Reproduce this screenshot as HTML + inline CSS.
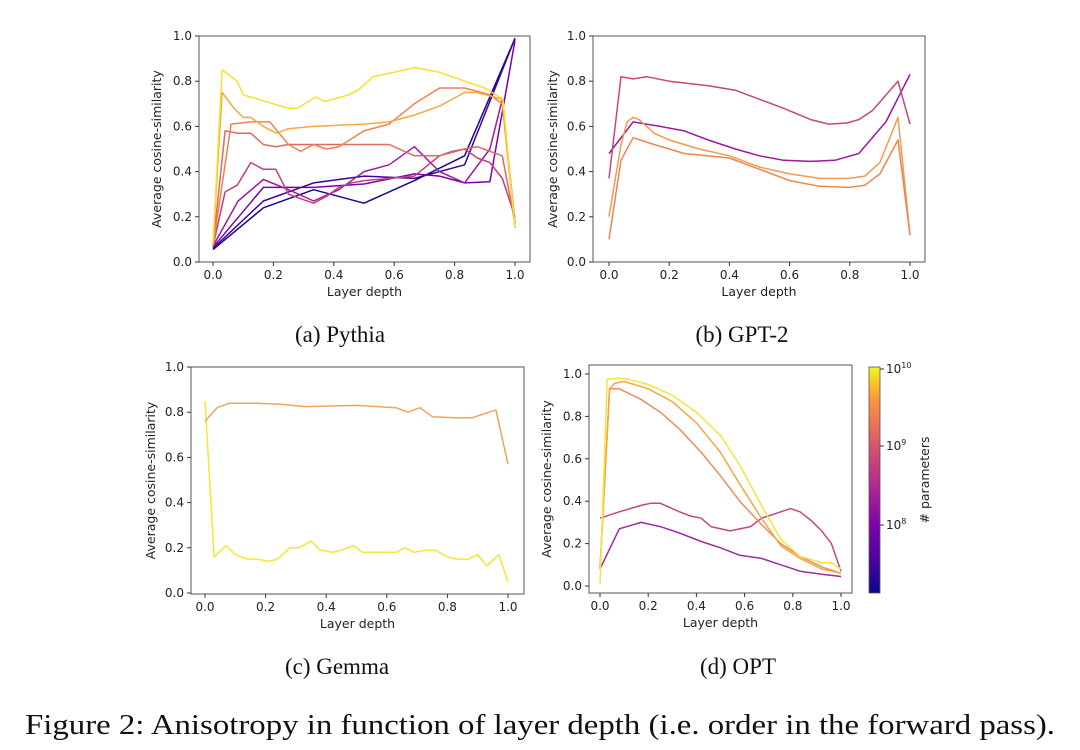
<!DOCTYPE html>
<html><head><meta charset="utf-8"><style>
html,body{margin:0;padding:0;background:#fff;width:1080px;height:750px;overflow:hidden}
svg text{font-family:"DejaVu Sans","Liberation Sans",sans-serif;fill:#222}
.cap{font-family:"Liberation Serif",serif;fill:#111}
</style></head><body>
<svg id="fig" width="1080" height="750" viewBox="0 0 1080 750" xmlns="http://www.w3.org/2000/svg">
<defs><linearGradient id="plasma" x1="0" y1="1" x2="0" y2="0">
<stop offset="0" stop-color="#0d0887"/><stop offset="0.15" stop-color="#4c02a1"/><stop offset="0.3" stop-color="#7e03a8"/><stop offset="0.45" stop-color="#a92395"/><stop offset="0.6" stop-color="#cc4778"/><stop offset="0.72" stop-color="#e56b5d"/><stop offset="0.85" stop-color="#f89441"/><stop offset="0.93" stop-color="#fdc328"/><stop offset="1" stop-color="#f0f921"/></linearGradient></defs>
</svg>
<script>
const ticks = [0, 0.2, 0.4, 0.6, 0.8, 1.0];
const tickLabels = ["0.0", "0.2", "0.4", "0.6", "0.8", "1.0"];

// Pythia
const pyX1=[0,0.167,0.333,0.5,0.667,0.833,1], pyY1=[0.055,0.24,0.32,0.26,0.36,0.47,0.99];
const pyX2=[0,0.167,0.333,0.5,0.667,0.833,1], pyY2=[0.06,0.27,0.35,0.38,0.37,0.43,0.99];
const pyX3=[0,0.167,0.333,0.5,0.667,0.75,0.833,0.917,1], pyY3=[0.065,0.33,0.33,0.345,0.39,0.38,0.35,0.355,0.98];
const pyX4=[0,0.083,0.167,0.25,0.333,0.417,0.5,0.583,0.667,0.75,0.833,0.917,0.958,1], pyY4=[0.07,0.27,0.365,0.32,0.27,0.32,0.4,0.43,0.51,0.4,0.35,0.5,0.72,0.17];
const pyX5=[0,0.04,0.08,0.125,0.167,0.208,0.25,0.29,0.333,0.375,0.417,0.458,0.5,0.583,0.667,0.75,0.792,0.833,0.875,0.917,0.958,1], pyY5=[0.07,0.31,0.34,0.44,0.41,0.41,0.3,0.28,0.26,0.29,0.33,0.35,0.36,0.37,0.38,0.47,0.49,0.5,0.46,0.44,0.37,0.2];
const pyX6=[0,0.04,0.083,0.125,0.167,0.208,0.25,0.333,0.417,0.5,0.583,0.667,0.75,0.833,0.875,0.917,0.958,1], pyY6=[0.07,0.58,0.57,0.57,0.52,0.51,0.52,0.52,0.52,0.52,0.52,0.47,0.47,0.5,0.51,0.49,0.47,0.17];
const pyX7=[0,0.06,0.125,0.188,0.25,0.29,0.333,0.375,0.417,0.5,0.583,0.667,0.75,0.833,0.917,0.958,1], pyY7=[0.07,0.61,0.62,0.62,0.52,0.49,0.52,0.5,0.51,0.58,0.61,0.7,0.77,0.77,0.74,0.7,0.15];
const pyX8=[0,0.03,0.07,0.1,0.125,0.167,0.21,0.25,0.333,0.5,0.583,0.667,0.75,0.833,0.875,0.958,1], pyY8=[0.08,0.75,0.68,0.64,0.64,0.6,0.57,0.59,0.6,0.61,0.62,0.65,0.69,0.75,0.75,0.72,0.15];
const pyX9=[0,0.03,0.08,0.1,0.15,0.2,0.25,0.28,0.34,0.37,0.45,0.48,0.53,0.6,0.667,0.75,0.833,0.9,0.96,1], pyY9=[0.08,0.85,0.8,0.74,0.72,0.7,0.68,0.68,0.73,0.71,0.74,0.76,0.82,0.84,0.86,0.84,0.8,0.77,0.72,0.15];

// GPT-2
const gpX1=[0,0.08,0.17,0.25,0.33,0.42,0.5,0.58,0.67,0.75,0.83,0.92,1], gpY1=[0.48,0.62,0.6,0.58,0.54,0.5,0.47,0.45,0.445,0.45,0.48,0.62,0.83];
const gpX2=[0,0.04,0.08,0.125,0.2,0.33,0.42,0.5,0.58,0.67,0.73,0.79,0.83,0.875,0.96,1], gpY2=[0.37,0.82,0.81,0.82,0.8,0.78,0.76,0.72,0.68,0.63,0.61,0.615,0.63,0.67,0.8,0.61];
const gpX3=[0,0.04,0.06,0.08,0.1,0.15,0.2,0.3,0.4,0.5,0.6,0.7,0.8,0.85,0.9,0.96,1], gpY3=[0.2,0.52,0.62,0.64,0.63,0.57,0.54,0.5,0.47,0.42,0.39,0.37,0.37,0.38,0.44,0.64,0.12];
const gpX4=[0,0.04,0.08,0.15,0.25,0.4,0.5,0.6,0.7,0.8,0.85,0.9,0.96,1], gpY4=[0.1,0.45,0.55,0.52,0.48,0.46,0.41,0.36,0.335,0.33,0.34,0.39,0.54,0.12];

// Gemma
const gmX1=[0,0.03,0.07,0.1,0.14,0.17,0.21,0.24,0.28,0.31,0.35,0.38,0.42,0.45,0.49,0.52,0.56,0.63,0.66,0.69,0.73,0.76,0.8,0.83,0.87,0.9,0.93,0.97,1], gmY1=[0.85,0.16,0.21,0.17,0.15,0.15,0.14,0.15,0.2,0.2,0.23,0.19,0.18,0.19,0.21,0.18,0.18,0.18,0.2,0.18,0.19,0.19,0.16,0.15,0.15,0.17,0.12,0.17,0.05];
const gmX2=[0,0.04,0.08,0.17,0.25,0.33,0.5,0.63,0.67,0.71,0.75,0.83,0.88,0.96,1], gmY2=[0.76,0.82,0.84,0.84,0.835,0.825,0.83,0.82,0.8,0.82,0.78,0.775,0.775,0.81,0.57];

// OPT
const opX1=[0,0.08,0.17,0.25,0.33,0.42,0.5,0.58,0.67,0.75,0.83,0.92,1], opY1=[0.08,0.27,0.3,0.28,0.25,0.21,0.18,0.145,0.13,0.1,0.07,0.055,0.045];
const opX2=[0,0.08,0.17,0.21,0.25,0.29,0.33,0.375,0.42,0.46,0.54,0.625,0.67,0.75,0.79,0.83,0.875,0.92,0.96,1], opY2=[0.32,0.35,0.38,0.39,0.39,0.37,0.35,0.33,0.32,0.28,0.26,0.28,0.32,0.35,0.365,0.35,0.31,0.26,0.2,0.07];
const opX3=[0,0.04,0.08,0.17,0.25,0.33,0.42,0.5,0.58,0.67,0.75,0.83,0.92,1], opY3=[0.08,0.93,0.93,0.88,0.82,0.74,0.63,0.52,0.4,0.29,0.2,0.14,0.09,0.06];
const opX4=[0,0.04,0.06,0.1,0.2,0.3,0.4,0.5,0.58,0.67,0.75,0.83,0.92,1], opY4=[0.08,0.93,0.955,0.965,0.93,0.87,0.77,0.63,0.48,0.32,0.19,0.13,0.08,0.06];
const opX5=[0,0.03,0.08,0.12,0.2,0.3,0.4,0.5,0.58,0.67,0.75,0.83,0.92,0.96,1], opY5=[0.01,0.975,0.98,0.975,0.95,0.9,0.82,0.71,0.57,0.38,0.22,0.14,0.11,0.11,0.08];

const NS="http://www.w3.org/2000/svg";
const svg=document.getElementById('fig');
function mk(tag,attrs,parent){const e=document.createElementNS(NS,tag);for(const k in attrs)e.setAttribute(k,attrs[k]);(parent||svg).appendChild(e);return e;}

const panels=[
 {id:'pythia',box:[199,36,530,262],x0:213,x1:515,y0:262,y1:36,ylab:161,cap:'(a) Pythia',capx:340,capy:342,
  series:[[pyX1,pyY1,'#1a068f'],[pyX2,pyY2,'#3d049b'],[pyX3,pyY3,'#7a02a8'],[pyX4,pyY4,'#a01a9c'],[pyX5,pyY5,'#c23e80'],[pyX6,pyY6,'#e0685f'],[pyX7,pyY7,'#ef8150'],[pyX8,pyY8,'#f9a73c'],[pyX9,pyY9,'#f6e12a']]},
 {id:'gpt2',box:[593,36,925,262],x0:609,x1:910,y0:262,y1:36,ylab:557,cap:'(b) GPT-2',capx:742,capy:342,
  series:[[gpX1,gpY1,'#9d189d'],[gpX2,gpY2,'#c9457a'],[gpX3,gpY3,'#f29a52'],[gpX4,gpY4,'#ee8454']]},
 {id:'gemma',box:[191,367,524,594],x0:205,x1:508,y0:593,y1:367,ylab:155,cap:'(c) Gemma',capx:337,capy:674,
  series:[[gmX1,gmY1,'#f5e636'],[gmX2,gmY2,'#f1a35a']]},
 {id:'opt',box:[589,365,852,593],x0:600,x1:841,y0:586,y1:374,ylab:551,cap:'(d) OPT',capx:738,capy:674,
  series:[[opX1,opY1,'#a12a9f'],[opX2,opY2,'#c5457e'],[opX3,opY3,'#ec8a60'],[opX4,opY4,'#f6a448'],[opX5,opY5,'#f8e33a']]}
];

panels.forEach(p=>{
 const g=mk('g',{});
 
 
 const sx=v=>p.x0+(p.x1-p.x0)*v, sy=v=>p.y0+(p.y1-p.y0)*v;
 p.series.forEach((s,i)=>{
  const d=s[0].map((x,j)=>(j?'L':'M')+sx(x).toFixed(1)+','+sy(s[1][j]).toFixed(1)).join('');
  const path=mk('path',{d:d,fill:'none',stroke:s[2],'stroke-width':1.5,'stroke-linejoin':'round'},g);
  
  
 });
 const b=p.box;
 const fr=mk('rect',{x:b[0],y:b[1],width:b[2]-b[0],height:b[3]-b[1],fill:'none',stroke:'#555','stroke-width':1},g);
 
 
 ticks.forEach((t,i)=>{
  mk('line',{x1:sx(t),x2:sx(t),y1:b[3],y2:b[3]+4,stroke:'#333'},g);
  const tx=mk('text',{x:sx(t),y:b[3]+17,'font-size':12,'text-anchor':'middle'},g);
  tx.textContent=tickLabels[i];
  
  
  mk('line',{x1:b[0]-4,x2:b[0],y1:sy(t),y2:sy(t),stroke:'#333'},g);
  const ty=mk('text',{x:b[0]-7,y:sy(t)+4,'font-size':12,'text-anchor':'end'},g);
  ty.textContent=tickLabels[i];
  
  
 });
 const xl=mk('text',{x:(b[0]+b[2])/2,y:b[3]+34,'font-size':12.5,'text-anchor':'middle'},g);
 xl.textContent='Layer depth';
 
 
 const yc=(b[1]+b[3])/2;
 const yl=mk('text',{x:p.ylab,y:yc,'font-size':12.5,'text-anchor':'middle',transform:`rotate(-90 ${p.ylab} ${yc})`},g);
 yl.textContent='Average cosine-similarity';
 
 
 const cp=mk('text',{x:p.capx,y:p.capy,'font-size':23,'text-anchor':'middle',class:'cap'},g);
 cp.textContent=p.cap;
 
 
});

// colorbar
const cb=mk('g',{});


mk('rect',{x:869,y:367,width:11,height:226,fill:'url(#plasma)',stroke:'#555','stroke-width':0.8},cb);
[[373,'10',10],[450,'10',9],[529,'10',8]].forEach(([y,b,e])=>{
 mk('line',{x1:880,x2:884,y1:y-4,y2:y-4,stroke:'#333'},cb);
 const t=mk('text',{x:886,y:y,'font-size':12},cb);
 t.textContent=b;
 const s=mk('tspan',{dy:-5,'font-size':8},t);
 s.textContent=e;
 
 
});
const cl=mk('text',{x:929,y:480,'font-size':12.5,'text-anchor':'middle',transform:'rotate(-90 929 480)'},cb);
cl.textContent='# parameters';



const fc=mk('text',{x:25,y:734,'font-size':28,class:'cap',textLength:1030,lengthAdjust:'spacingAndGlyphs'});
fc.textContent='Figure 2: Anisotropy in function of layer depth (i.e. order in the forward pass).';


</script>
</body></html>
